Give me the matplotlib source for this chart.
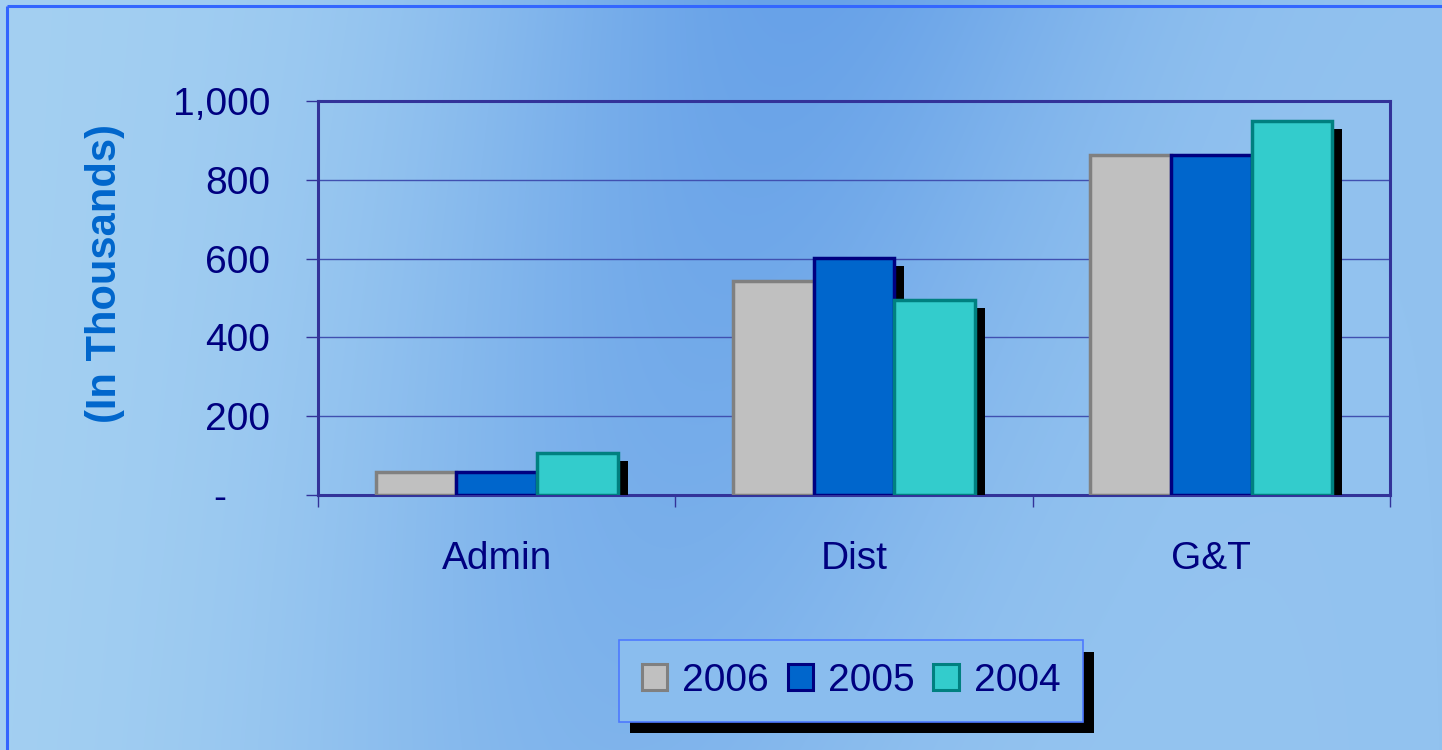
import numpy as np
import matplotlib
matplotlib.use("Agg")
import matplotlib.pyplot as plt
import matplotlib.patheffects as pe
from matplotlib.patches import Patch
from matplotlib.colors import to_rgb

plt.rcParams['font.family'] = ['Liberation Sans', 'DejaVu Sans']

# data (in thousands)
categories = ["Admin", "Dist", "G&T"]
years = ["2006", "2005", "2004"]
values_2006 = [58, 543, 863]
values_2005 = [58, 601, 863]
values_2004 = [107, 495, 949]
y_ticks = [0, 200, 400, 600, 800, 1000]
y_tick_labels = ["-    ", "200", "400", "600", "800", "1,000"]

faces = ["#C0C0C0", "#0066CC", "#33CCCC"]
edges = ["#808080", "#000080", "#008080"]
navy = "#000080"
frame_col = "#333399"

W, H = 1442, 750
fig = plt.figure(figsize=(W / 100, H / 100), dpi=100)

# slide-like gradient background
bg = fig.add_axes([0, 0, 1, 1], zorder=-10)
xx, yy = np.meshgrid(np.arange(W), np.arange(H))
center = 800 - 0.25 * yy
band = np.exp(-((xx - center) / 330.0) ** 2) * (1 - 0.45 * yy / H)
t = (xx / W)[..., None]
base = np.array(to_rgb("#A4D0F2")) * (1 - t) + np.array(to_rgb("#92C2EF")) * t
img = base * (1 - band[..., None]) + np.array(to_rgb("#68A2E8")) * band[..., None]
bg.imshow(img, aspect="auto", extent=[0, W, H, 0])
bg.plot([7, 7], [H, 6], color="#3366FF", lw=2.2, solid_capstyle="butt")
bg.plot([7, W], [6, 6], color="#3366FF", lw=2.2, solid_capstyle="butt")
bg.set_xlim(0, W)
bg.set_ylim(H, 0)
bg.axis("off")

ax = fig.add_axes([318 / W, 1 - 495 / H, 1072 / W, 394 / H])
ax.patch.set_alpha(0)

x = np.arange(len(categories))
width = 0.226
shadow = [pe.SimplePatchShadow(offset=(7.2, -5.8), shadow_rgbFace="black", alpha=1),
          pe.Normal()]
series = [values_2006, values_2005, values_2004]
for i, vals in enumerate(series):
    bars = ax.bar(x + (i - 1) * width, vals, width, color=faces[i],
                  edgecolor=edges[i], linewidth=2.5, zorder=3)
    for b in bars:
        b.set_path_effects(shadow)

ax.set_ylim(0, 1000)
ax.set_yticks(y_ticks, y_tick_labels)
ax.set_xlim(-0.5, 2.5)
ax.set_xticks([-0.5, 0.5, 1.5, 2.5], [])
ax.set_xticks(x, categories, minor=True)

ax.tick_params(axis="y", length=8.6, width=1, color=frame_col, pad=26,
               labelsize=28, labelcolor=navy)
ax.tick_params(axis="x", which="major", length=8.6, width=1, color=frame_col)
ax.tick_params(axis="x", which="minor", length=0, pad=33, labelsize=28,
               labelcolor=navy)

for s in ax.spines.values():
    s.set_color(frame_col)
    s.set_linewidth(2.2)
ax.yaxis.grid(True, color="#4050B0", lw=1)
ax.set_axisbelow(True)

fig.text(105 / W, 1 - 274 / H, "(In Thousands)", rotation=90, ha="center",
         va="center", fontsize=30, fontweight="bold", color="#0066CC")

handles = [Patch(facecolor=faces[i], edgecolor=edges[i], linewidth=2.2)
           for i in range(3)]
leg = fig.legend(handles, years, loc="center", ncol=3,
                 bbox_to_anchor=(851 / W, 1 - 681 / H),
                 bbox_transform=fig.transFigure, fontsize=28, labelcolor=navy,
                 handlelength=0.65, handleheight=0.65, handletextpad=0.38,
                 columnspacing=0.49, borderpad=0.58, fancybox=False,
                 framealpha=1, facecolor="#8ABDEE", edgecolor="#4D79FF")
leg.get_frame().set_linewidth(1.2)
leg.get_frame().set_path_effects([
    pe.SimplePatchShadow(offset=(8, -8), shadow_rgbFace="black", alpha=1),
    pe.Normal()])

fig.savefig("out.png", dpi=100)
